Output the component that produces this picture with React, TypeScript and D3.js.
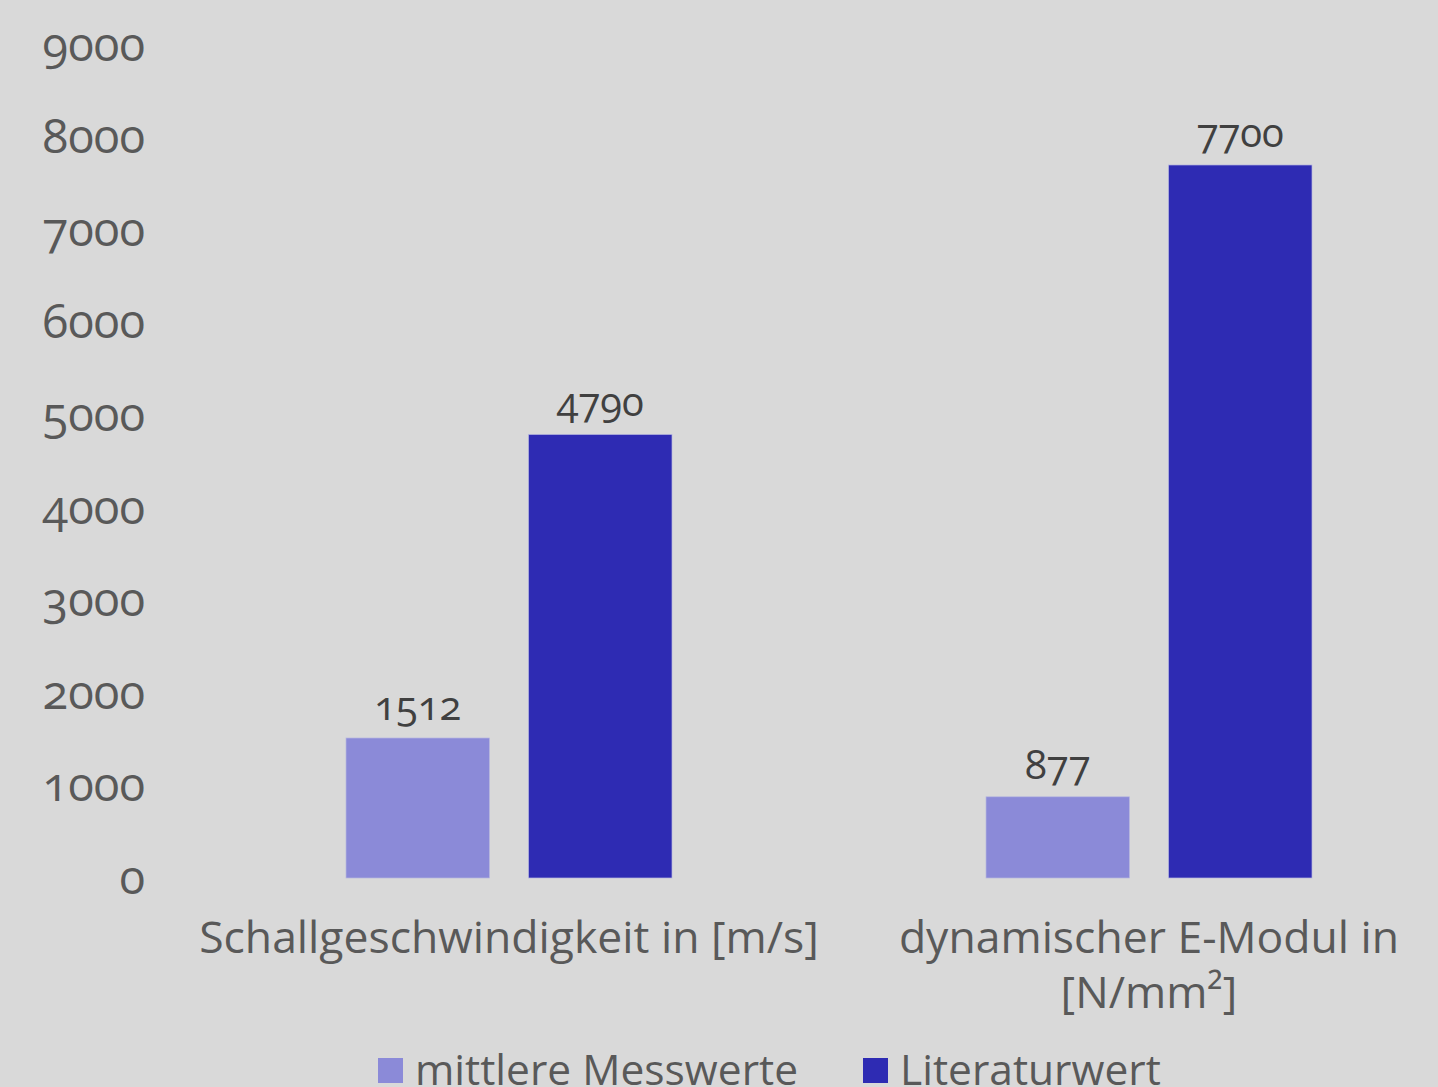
import React from "react";
import * as d3 from "d3";

const categories = ["Schallgeschwindigkeit in [m/s]", "dynamischer E-Modul in [N/mm²]"];
const categoryLines = [["Schallgeschwindigkeit in [m/s]"], ["dynamischer E-Modul in", "[N/mm²]"]];
const seriesNames = ["mittlere Messwerte", "Literaturwert"];
const measured = [1512, 877];
const literature = [4790, 7700];
const yTicks = [0, 1000, 2000, 3000, 4000, 5000, 6000, 7000, 8000, 9000];
const colors = ["#8b8ad8", "#2e2bb3"];

const W = 1438;
const H = 1087;
const FONT = "'Open Sans', 'Noto Sans', sans-serif";

export default function App() {
  const y = d3.scaleLinear().domain([0, 9000]).range([878, 44.6]);
  const x0 = d3.scaleBand<string>().domain(categories).range([189, 1469]).padding(0);
  const x1 = d3.scaleBand<string>().domain(seriesNames).range([-163, 163]).paddingInner(0.2137).paddingOuter(0);
  const seriesValues = [measured, literature];

  return (
    <svg
      width={W}
      height={H}
      style={{ position: "absolute", left: 0, top: 0, display: "block" }}
      fontFamily={FONT}
    >
      <rect x={0} y={0} width={W} height={H} fill="#d9d9d9" />
      {yTicks.map((t) => (
        <text
          key={t}
          x={145}
          y={y(t)}
          dy="0.34em"
          textAnchor="end"
          fontSize={47}
          fill="#595959"
          style={{ fontVariantNumeric: "oldstyle-nums" }}
        >
          {t}
        </text>
      ))}
      {categories.map((c, ci) => {
        const cx = (x0(c) as number) + x0.bandwidth() / 2;
        return (
          <g key={c}>
            {seriesNames.map((s, si) => {
              const v = seriesValues[si][ci];
              const bx = cx + (x1(s) as number);
              return (
                <g key={s}>
                  <rect
                    x={bx}
                    y={y(v)}
                    width={x1.bandwidth()}
                    height={y(0) - y(v)}
                    fill={colors[si]}
                    stroke="#b8b8e0"
                    strokeWidth={0.7}
                  />
                  <text
                    x={bx + x1.bandwidth() / 2}
                    y={y(v) - 18}
                    textAnchor="middle"
                    fontSize={40}
                    fill="#404040"
                    style={{ fontVariantNumeric: "oldstyle-nums" }}
                  >
                    {v}
                  </text>
                </g>
              );
            })}
            {categoryLines[ci].map((line, li) => (
              <text
                key={li}
                x={cx}
                y={953 + li * 55}
                textAnchor="middle"
                fontSize={44.5}
                fill="#595959"
              >
                {line}
              </text>
            ))}
          </g>
        );
      })}
      {seriesNames.map((s, si) => {
        const lx = [378, 863][si];
        return (
          <g key={s}>
            <rect x={lx} y={1058} width={25} height={25} fill={colors[si]} />
            <text x={lx + 37} y={1085} fontSize={42.5} fill="#595959">
              {s}
            </text>
          </g>
        );
      })}
    </svg>
  );
}
